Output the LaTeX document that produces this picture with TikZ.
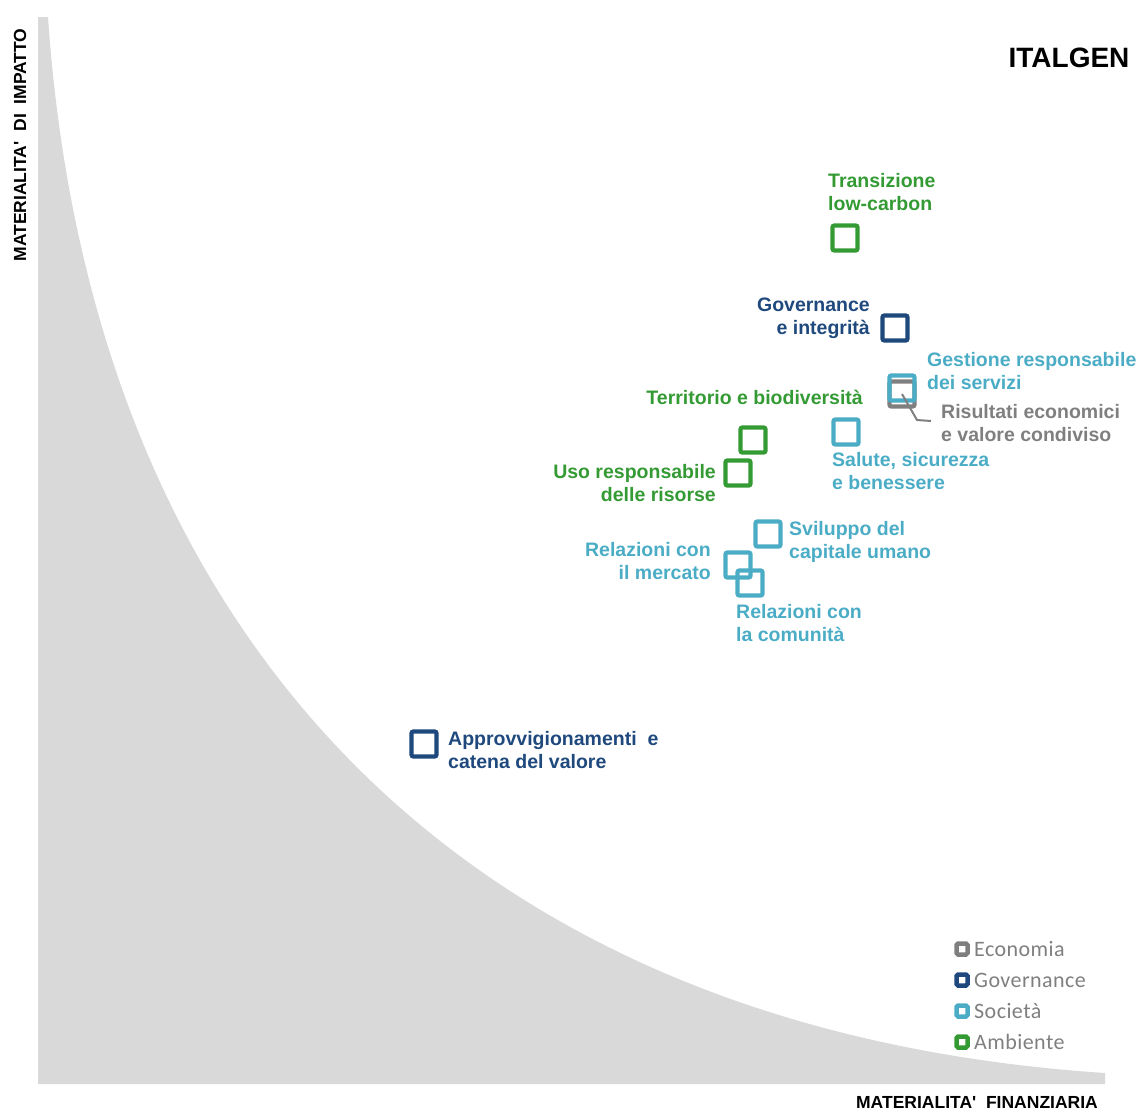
\documentclass[tikz,border=0pt]{standalone}
\usepackage{fontspec}
\setmainfont{Liberation Sans}
\newfontfamily\legfont[LetterSpace=2]{Carlito}
\definecolor{cgreen}{RGB}{52,154,52}
\definecolor{cblue}{RGB}{31,73,125}
\definecolor{cteal}{RGB}{75,172,198}
\definecolor{cgray}{RGB}{127,127,127}
\definecolor{careagray}{RGB}{217,217,217}
\tikzset{
  mbox/.style={draw=#1, line width=4.3pt, rounded corners=2pt, minimum size=25pt, inner sep=0pt, fill=none},
  lbl/.style={text=#1, font=\fontsize{19.5}{23}\selectfont\bfseries, inner sep=0pt},
  legbox/.style={draw=#1, line width=4.5pt, rounded corners=1.5pt, minimum size=11pt, inner sep=0pt},
  legtxt/.style={text=cgray, font=\legfont\fontsize{22}{25}\selectfont, inner sep=0pt, anchor=west},
  axis/.style={font=\fontsize{17.5}{20}\selectfont\bfseries, inner sep=0pt}
}
\begin{document}
\begin{tikzpicture}[x=1pt,y=-1pt]
\useasboundingbox (0,0) rectangle (1141,1111);
% grey area
\fill[careagray] (38,17) -- (48,17) .. controls (90,630) and (455,1030) .. (1105,1073) -- (1105,1084) -- (38,1084) -- cycle;
% title and axes
\node[font=\fontsize{28}{32}\selectfont\bfseries, inner sep=0pt] (title) at (1069,58) {ITALGEN};
\node[axis, rotate=90] (ylab) at (20,145) {MATERIALITA\textquotesingle\ \ DI\ \ IMPATTO};
\node[axis] (xlab) at (977,1102) {MATERIALITA\textquotesingle\ \ FINANZIARIA};
% boxes
\node[mbox=cgreen] (tlc) at (845,238) {};
\node[mbox=cblue] (gov) at (895,328) {};
\node[mbox=cgray] (rsc) at (902,394) {};
\node[mbox=cteal] (grs) at (902,388) {};
\node[mbox=cgreen] (terr) at (753,440) {};
\node[mbox=cgreen] (uso) at (738,473) {};
\node[mbox=cteal] (sal) at (846,432) {};
\node[mbox=cteal] (svi) at (768,534) {};
\node[mbox=cteal] (rmer) at (738,565) {};
\node[mbox=cteal] (rcom) at (750,583) {};
\node[mbox=cblue] (appr) at (424,744) {};
% connector
\coordinate (rscend) at (931,421);
\draw[cgray, line width=2pt] (rsc.center) -- (917,420) -- (rscend);
% labels
\node[lbl=cgreen, anchor=north west, align=left] (tlcL) at (828,173) {Transizione\\low-carbon};
\node[lbl=cblue, anchor=north east, align=right] (govL) at (870,298) {Governance\\e integrità};
\node[lbl=cteal, anchor=north west, align=left] (grsL) at (927,352) {Gestione responsabile\\dei servizi};
\node[lbl=cgray, anchor=north west, align=left] (rscL) at (941,404) {Risultati economici\\e valore condiviso};
\node[lbl=cgreen, anchor=north east] (terrL) at (863,390) {Territorio e biodiversità};
\node[lbl=cgreen, anchor=north east, align=right] (usoL) at (716,464) {Uso responsabile\\delle risorse};
\node[lbl=cteal, anchor=north west, align=left] (salL) at (832,452) {Salute, sicurezza\\e benessere};
\node[lbl=cteal, anchor=north west, align=left] (sviL) at (789,521) {Sviluppo del\\capitale umano};
\node[lbl=cteal, anchor=north east, align=right] (rmerL) at (711,542) {Relazioni con\\il mercato};
\node[lbl=cteal, anchor=north west, align=left] (rcomL) at (736,604) {Relazioni con\\la comunità};
\node[lbl=cblue, anchor=north west, align=left] (apprL) at (448,731) {Approvvigionamenti\ \ e\\catena del valore};
% legend
\node[legbox=cgray] (lg1) at (962,949) {};
\node[legbox=cblue] (lg2) at (962,980) {};
\node[legbox=cteal] (lg3) at (962,1011) {};
\node[legbox=cgreen] (lg4) at (962,1042) {};
\node[legtxt] (lt1) at (974,949) {Economia};
\node[legtxt] (lt2) at (974,980) {Governance};
\node[legtxt] (lt3) at (974,1011) {Società};
\node[legtxt] (lt4) at (974,1042) {Ambiente};
\end{tikzpicture}
\end{document}
